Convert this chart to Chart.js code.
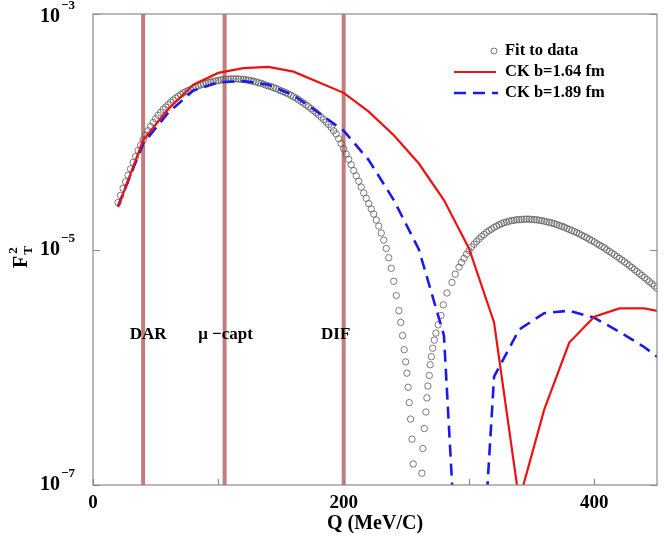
<!DOCTYPE html>
<html>
<head>
<meta charset="utf-8">
<script src="https://cdn.jsdelivr.net/npm/chart.js@4"></script>
<style>
  html, body { margin: 0; padding: 0; background: #fff; }
  canvas { display: block; }
</style>
</head>
<body>
<canvas id="chart" width="664" height="541"></canvas>
<script>
// momentum transfer Q (MeV/c) where the CK curves were evaluated
const ckQ = [20, 40, 60, 80, 100, 120, 140, 160, 180, 200, 220, 240, 260, 280, 300, 320, 340, 360, 380, 400, 420, 440, 460];
const ck164 = [2.29e-5, 8.51e-5, 1.55e-4, 2.51e-4, 3.16e-4, 3.47e-4, 3.55e-4, 3.24e-4, 2.63e-4, 2.14e-4, 1.48e-4, 9.33e-5, 5.37e-5,
  2.63e-5, 1.02e-5, 2.40e-6, 7.4e-8, 4.37e-7, 1.62e-6, 2.69e-6, 3.16e-6, 3.16e-6, 2.88e-6];
const ck189 = [2.34e-5, 7.94e-5, 1.45e-4, 2.24e-4, 2.63e-4, 2.69e-4, 2.51e-4, 2.04e-4, 1.45e-4, 1.02e-4, 5.75e-5, 2.63e-5, 1.00e-5,
  1.86e-6, 2.5e-10, 8.32e-7, 2.09e-6, 2.88e-6, 3.02e-6, 2.63e-6, 2.00e-6, 1.48e-6, 1.02e-6];

// fit to data (open circles)
const fitQ = [
  20, 22, 24, 26, 28, 30, 32, 34, 36, 38,
  40, 42, 44, 46, 48, 50, 52, 54, 56, 58,
  60, 62, 64, 66, 68, 70, 72, 74, 76, 78,
  80, 82, 84, 86, 88, 90, 92, 94, 96, 98,
  100, 102, 104, 106, 108, 110, 112, 114, 116, 118,
  120, 122, 124, 126, 128, 130, 132, 134, 136, 138,
  140, 142, 144, 146, 148, 150, 152, 154, 156, 158,
  160, 162, 164, 166, 168, 170, 172, 174, 176, 178,
  180, 182, 184, 186, 188, 190, 192, 194, 196, 198,
  200, 202, 204, 206, 208, 210, 212, 214, 216, 218,
  220, 222, 224, 226, 228, 230, 232, 234, 236, 238,
  240, 242, 244,
  245.5, 247, 248.3, 249.5, 250.5, 251.4, 252.3, 253.4, 254.5, 255.5, 256.5,
  262.4, 263.2, 264.3, 265.6, 266.4, 267.2, 268.3, 269, 270, 271,
  272.3, 273.6, 275.4, 277.6, 279.5, 282.4, 286.4, 289,
  292, 294, 296, 298, 300, 302, 304, 306, 308, 310,
  312, 314, 316, 318, 320, 322, 324, 326, 328, 330,
  332, 334, 336, 338, 340, 342, 344, 346, 348, 350,
  352, 354, 356, 358, 360, 362, 364, 366, 368, 370,
  372, 374, 376, 378, 380, 382, 384, 386, 388, 390,
  392, 394, 396, 398, 400, 402, 404, 406, 408, 410,
  412, 414, 416, 418, 420, 422, 424, 426, 428, 430,
  432, 434, 436, 438, 440, 442, 444, 446, 448, 450];
const fitF = [
  2.51e-5, 2.88e-5, 3.31e-5, 3.76e-5, 4.27e-5, 4.84e-5, 5.50e-5, 6.17e-5, 6.92e-5, 7.67e-5,
  8.51e-5, 9.33e-5, 1.02e-4, 1.11e-4, 1.20e-4, 1.29e-4, 1.38e-4, 1.46e-4, 1.55e-4, 1.62e-4,
  1.70e-4, 1.78e-4, 1.86e-4, 1.93e-4, 2.00e-4, 2.07e-4, 2.14e-4, 2.19e-4, 2.24e-4, 2.29e-4,
  2.34e-4, 2.40e-4, 2.45e-4, 2.50e-4, 2.54e-4, 2.58e-4, 2.61e-4, 2.64e-4, 2.67e-4, 2.70e-4,
  2.72e-4, 2.75e-4, 2.77e-4, 2.79e-4, 2.80e-4, 2.81e-4, 2.81e-4, 2.81e-4, 2.81e-4, 2.79e-4,
  2.78e-4, 2.76e-4, 2.74e-4, 2.71e-4, 2.68e-4, 2.65e-4, 2.61e-4, 2.58e-4, 2.54e-4, 2.49e-4,
  2.45e-4, 2.42e-4, 2.37e-4, 2.33e-4, 2.28e-4, 2.23e-4, 2.19e-4, 2.14e-4, 2.09e-4, 2.04e-4,
  1.98e-4, 1.93e-4, 1.87e-4, 1.81e-4, 1.75e-4, 1.69e-4, 1.63e-4, 1.57e-4, 1.51e-4, 1.45e-4,
  1.39e-4, 1.33e-4, 1.27e-4, 1.21e-4, 1.15e-4, 1.09e-4, 1.02e-4, 9.59e-5, 8.71e-5, 7.94e-5,
  7.16e-5, 6.46e-5, 5.82e-5, 5.25e-5, 4.68e-5, 4.22e-5, 3.80e-5, 3.39e-5, 3.02e-5, 2.72e-5,
  2.45e-5, 2.21e-5, 2.00e-5, 1.78e-5, 1.58e-5, 1.38e-5, 1.20e-5, 1.02e-5, 8.51e-6, 6.92e-6,
  5.37e-6, 4.07e-6, 3.02e-6,
  2.40e-6, 1.86e-6, 1.41e-6, 1.11e-6, 8.91e-7, 6.76e-7, 5.01e-7, 3.63e-7, 2.45e-7, 1.51e-7, 7.9e-8,
  1.26e-7, 2.04e-7, 3.02e-7, 4.17e-7, 5.50e-7, 6.92e-7, 8.51e-7, 1.05e-6, 1.23e-6, 1.45e-6,
  1.70e-6, 1.95e-6, 2.29e-6, 2.75e-6, 3.39e-6, 4.27e-6, 5.25e-6, 6.17e-6,
  7.08e-6, 7.76e-6, 8.41e-6, 9.12e-6, 9.77e-6, 1.05e-5, 1.11e-5, 1.17e-5, 1.23e-5, 1.29e-5,
  1.34e-5, 1.40e-5, 1.45e-5, 1.49e-5, 1.54e-5, 1.58e-5, 1.62e-5, 1.66e-5, 1.69e-5, 1.71e-5,
  1.74e-5, 1.76e-5, 1.77e-5, 1.79e-5, 1.79e-5, 1.80e-5, 1.81e-5, 1.81e-5, 1.81e-5, 1.80e-5,
  1.79e-5, 1.79e-5, 1.77e-5, 1.76e-5, 1.74e-5, 1.72e-5, 1.70e-5, 1.68e-5, 1.66e-5, 1.63e-5,
  1.60e-5, 1.57e-5, 1.55e-5, 1.51e-5, 1.48e-5, 1.45e-5, 1.42e-5, 1.39e-5, 1.36e-5, 1.32e-5,
  1.29e-5, 1.26e-5, 1.22e-5, 1.19e-5, 1.16e-5, 1.12e-5, 1.09e-5, 1.06e-5, 1.03e-5, 9.93e-6,
  9.62e-6, 9.31e-6, 9.02e-6, 8.71e-6, 8.41e-6, 8.13e-6, 7.85e-6, 7.57e-6, 7.29e-6, 7.03e-6,
  6.76e-6, 6.50e-6, 6.25e-6, 6.01e-6, 5.78e-6, 5.55e-6, 5.32e-6, 5.11e-6, 4.90e-6, 4.68e-6];

// marked kinematic regions
const markQ = [40, 105, 200];
const markNames = ['DAR', 'μ −capt', 'DIF'];

// axis ticks
const xTicks = [0, 100, 200, 300, 400];
const xTickLabels = ['0', '200', '400'];
const yTicks = [1e-7, 1e-5, 1e-3];
const yTickExp = ['−7', '−5', '−3'];

const legendNames = ['Fit to data', 'CK b=1.64 fm', 'CK b=1.89 fm'];

const SERIF = '"Liberation Serif", "Times New Roman", serif';
const BLUE_DASH = [12, 7];

const pts = (xs, ys) => xs.map((x, i) => ({ x: x, y: ys[i] }));

const markSets = markQ.map(q => ({
  data: [{ x: q, y: 1e-7 }, { x: q, y: 1e-3 }],
  showLine: true,
  borderColor: '#c47c7c',
  borderWidth: 4,
  pointRadius: 0,
  order: 5
}));

const decor = {
  id: 'decor',
  afterDraw(chart) {
    const ctx = chart.ctx;
    const a = chart.chartArea;
    const xs = chart.scales.x, ys = chart.scales.y;
    ctx.save();

    // frame
    ctx.strokeStyle = '#8a8a8a';
    ctx.lineWidth = 1.2;
    ctx.strokeRect(a.left, a.top, a.right - a.left, a.bottom - a.top);

    // inward ticks
    ctx.beginPath();
    xTicks.forEach(v => {
      const px = Math.round(xs.getPixelForValue(v)) + 0.5;
      ctx.moveTo(px, a.bottom);
      ctx.lineTo(px, a.bottom - 6);
    });
    yTicks.forEach(v => {
      const py = Math.round(ys.getPixelForValue(v)) + 0.5;
      ctx.moveTo(a.left, py);
      ctx.lineTo(a.left + 7, py);
      ctx.moveTo(a.right, py);
      ctx.lineTo(a.right - 7, py);
    });
    ctx.stroke();

    ctx.fillStyle = '#000';

    // x tick labels
    ctx.font = 'bold 19px ' + SERIF;
    ctx.textAlign = 'center';
    ctx.textBaseline = 'middle';
    xTickLabels.forEach(t => {
      ctx.fillText(t, xs.getPixelForValue(Number(t)), a.bottom + 18);
    });

    // y tick labels 10^n
    yTicks.forEach((v, i) => {
      const py = Math.max(ys.getPixelForValue(v), a.top + 3);
      ctx.font = 'bold 20px ' + SERIF;
      ctx.textAlign = 'left';
      ctx.textBaseline = 'middle';
      ctx.fillText('10', 40, py);
      ctx.font = 'bold 13px ' + SERIF;
      ctx.fillText(yTickExp[i], 61, py - 11);
    });

    // axis titles
    ctx.font = 'bold 20px ' + SERIF;
    ctx.textAlign = 'center';
    ctx.fillText('Q (MeV/C)', (a.left + a.right) / 2, a.bottom + 39);

    ctx.save();
    ctx.translate(22, 268);
    ctx.rotate(-Math.PI / 2);
    ctx.textAlign = 'left';
    ctx.textBaseline = 'middle';
    ctx.font = 'bold 20px ' + SERIF;
    ctx.fillText('F', 0, 0);
    const fw = ctx.measureText('F').width;
    ctx.font = 'bold 13px ' + SERIF;
    ctx.fillText('T', fw + 1, 7);
    ctx.fillText('2', fw + 2, -8);
    ctx.restore();

    // region labels
    const offs = [5, 1, -8];
    ctx.font = 'bold 17px ' + SERIF;
    ctx.textAlign = 'center';
    ctx.textBaseline = 'middle';
    markQ.forEach((q, i) => {
      ctx.fillText(markNames[i], xs.getPixelForValue(q) + offs[i], a.top + 321);
    });

    // legend
    const lx = 505, rows = [51, 72, 93];
    ctx.font = 'bold 16.5px ' + SERIF;
    ctx.textAlign = 'left';
    legendNames.forEach((n, i) => ctx.fillText(n, lx, rows[i]));
    ctx.beginPath();
    ctx.arc(494, rows[0], 3, 0, Math.PI * 2);
    ctx.strokeStyle = '#555';
    ctx.lineWidth = 0.8;
    ctx.stroke();
    ctx.beginPath();
    ctx.moveTo(454, rows[1]);
    ctx.lineTo(496, rows[1]);
    ctx.strokeStyle = '#ee1111';
    ctx.lineWidth = 2.2;
    ctx.stroke();
    ctx.beginPath();
    ctx.setLineDash(BLUE_DASH);
    ctx.moveTo(454, rows[2]);
    ctx.lineTo(498, rows[2]);
    ctx.strokeStyle = '#1a1aee';
    ctx.lineWidth = 2.6;
    ctx.stroke();
    ctx.restore();
  }
};

new Chart(document.getElementById('chart'), {
  type: 'scatter',
  data: {
    datasets: [
      {
        label: legendNames[0],
        data: pts(fitQ, fitF),
        showLine: false,
        pointStyle: 'circle',
        pointRadius: 3.2,
        pointBorderWidth: 0.8,
        pointBorderColor: '#5a5a5a',
        pointBackgroundColor: 'rgba(255,255,255,0)',
        order: 3
      },
      {
        label: legendNames[1],
        data: pts(ckQ, ck164),
        showLine: true,
        borderColor: '#ee1111',
        borderWidth: 2.2,
        pointRadius: 0,
        tension: 0,
        order: 1
      },
      {
        label: legendNames[2],
        data: pts(ckQ, ck189),
        showLine: true,
        borderColor: '#1a1aee',
        borderWidth: 2.6,
        borderDash: BLUE_DASH,
        pointRadius: 0,
        tension: 0,
        order: 2
      },
      ...markSets
    ]
  },
  options: {
    responsive: false,
    animation: false,
    devicePixelRatio: 1,
    layout: { padding: { left: 0, right: 7, top: 14, bottom: 0 } },
    plugins: { legend: { display: false }, tooltip: { enabled: false } },
    scales: {
      x: {
        type: 'linear', min: 0, max: 450,
        grid: { display: false }, border: { display: false },
        ticks: { display: false },
        afterFit(s) { s.height = 56; }
      },
      y: {
        type: 'logarithmic', min: 1e-7, max: 1e-3,
        grid: { display: false }, border: { display: false },
        ticks: { display: false },
        afterFit(s) { s.width = 93; }
      }
    }
  },
  plugins: [decor]
});
</script>
</body>
</html>
